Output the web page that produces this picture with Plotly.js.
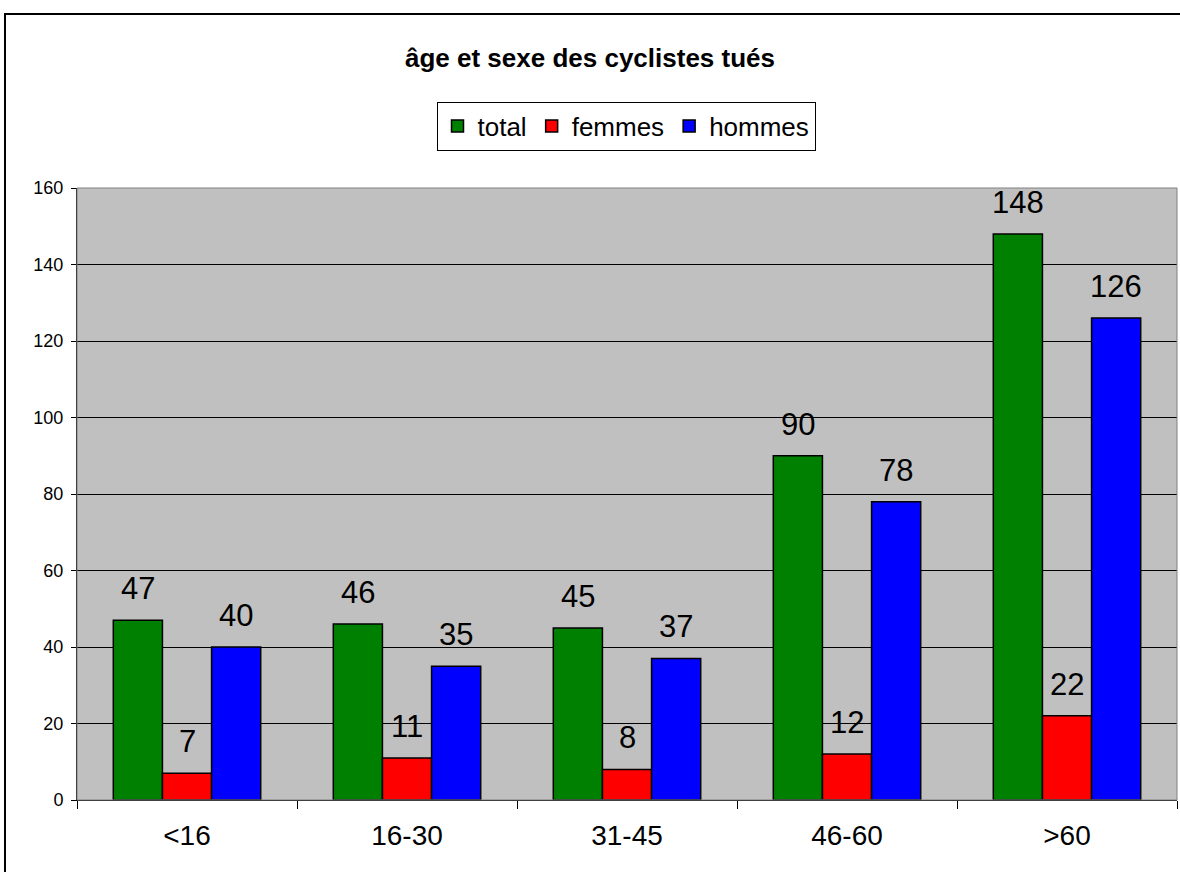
<!DOCTYPE html>
<html>
<head>
<meta charset="utf-8">
<script src="https://cdn.plot.ly/plotly-3.0.1.min.js"></script>
<style>
  body { margin: 0; background: #fff; }
  #chart { width: 1180px; height: 872px; }
</style>
</head>
<body>
<div id="chart"></div>
<script>
var categories = ['<16', '16-30', '31-45', '46-60', '>60'];
var total = [47, 46, 45, 90, 148];
var femmes = [7, 11, 8, 12, 22];
var hommes = [40, 35, 37, 78, 126];

var series = [
  {name: 'total', values: total, color: '#008000', shift: -49},
  {name: 'femmes', values: femmes, color: '#ff0000', shift: 0},
  {name: 'hommes', values: hommes, color: '#0000ff', shift: 49}
];

var data = series.map(function (s) {
  return {
    type: 'bar',
    name: s.name,
    x: categories,
    y: s.values,
    marker: {color: s.color, line: {color: '#000', width: 1.5}},
    hoverinfo: 'x+y'
  };
});

// value labels above each bar
var annotations = [];
series.forEach(function (s) {
  s.values.forEach(function (v, i) {
    annotations.push({
      x: categories[i], y: v, xref: 'x', yref: 'y',
      text: String(v), showarrow: false,
      xanchor: 'center', yanchor: 'bottom',
      xshift: s.shift, yshift: 12,
      font: {size: 31, color: '#000'}
    });
  });
});

var layout = {
  width: 1180,
  height: 872,
  margin: {l: 77, r: 3, t: 188, b: 72},
  paper_bgcolor: '#fff',
  plot_bgcolor: '#c0c0c0',
  font: {family: 'Arial, Liberation Sans, sans-serif', color: '#000'},
  title: {
    text: '<b>âge et sexe des cyclistes tués</b>',
    font: {size: 26, color: '#000'},
    x: 0.5, xanchor: 'center',
    y: 1 - 58 / 872, yanchor: 'middle'
  },
  bargap: 0.33,
  bargroupgap: 0,
  showlegend: true,
  legend: {
    orientation: 'h',
    x: (626 - 77) / 1100, xanchor: 'center',
    y: (800 - 126) / 612, yanchor: 'middle',
    bgcolor: '#fff',
    bordercolor: '#000',
    borderwidth: 1,
    font: {size: 26, color: '#000'},
    itemwidth: 30,
    traceorder: 'normal'
  },
  annotations: annotations,
  xaxis: {
    type: 'category',
    tickson: 'boundaries',
    ticks: 'outside',
    ticklen: 8,
    tickcolor: '#000',
    showline: true,
    linecolor: '#000',
    linewidth: 1,
    tickfont: {size: 28, color: '#000'},
    ticklabelstandoff: 10,
    showgrid: false,
    fixedrange: true
  },
  yaxis: {
    range: [0, 160],
    dtick: 20,
    ticks: 'outside',
    ticklen: 5,
    tickcolor: '#000',
    showline: true,
    linecolor: '#000',
    linewidth: 1,
    showgrid: true,
    gridcolor: '#000',
    gridwidth: 1,
    zeroline: false,
    tickfont: {size: 18, color: '#000'},
    ticklabelstandoff: 4,
    fixedrange: true
  },
  shapes: [
    {
      type: 'rect', xref: 'paper', yref: 'paper',
      x0: 0, x1: 1, y0: 0, y1: 1,
      line: {color: '#808080', width: 1}
    },
    {
      type: 'rect', xref: 'paper', yref: 'paper',
      x0: (5 - 77) / 1100, x1: (1240 - 77) / 1100,
      y0: (800 - 900) / 612, y1: (800 - 14) / 612,
      line: {color: '#000', width: 2}
    }
  ]
};

Plotly.newPlot('chart', data, layout, {displayModeBar: false, staticPlot: true});
</script>
</body>
</html>
